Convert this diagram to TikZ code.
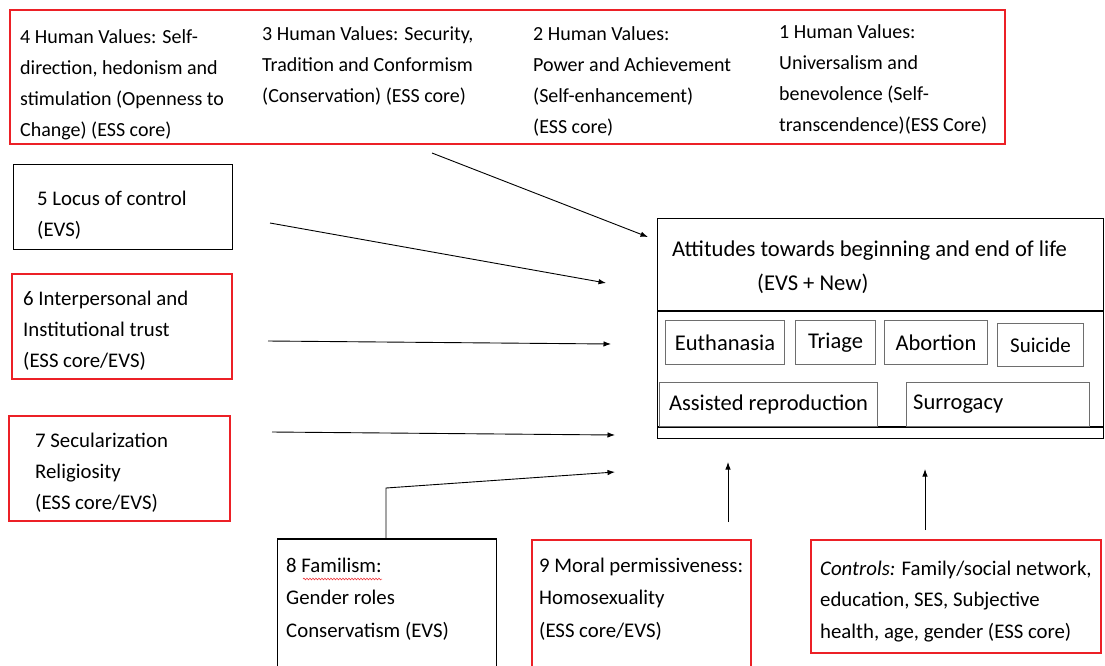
\documentclass[tikz,border=0pt]{standalone}
\usepackage{fontspec}
\setmainfont{Carlito}
\usetikzlibrary{arrows.meta,decorations.pathmorphing}
\definecolor{boxred}{RGB}{236,32,38}
\definecolor{innergray}{RGB}{110,110,110}
\tikzset{
  redbox/.style={draw=boxred,line width=1.8pt,inner sep=0pt,anchor=north west},
  blackbox/.style={draw=black,line width=1.3pt,inner sep=0pt,anchor=north west},
  itembox/.style={draw=innergray,line width=1pt,inner sep=0pt,anchor=north west},
  % base anchor of a multi-line label sits on its last line
  lbl/.style={inner sep=0pt,anchor=base west,align=left,font=\fontsize{20.8}{31}\selectfont},
  toplbl/.style={lbl,font=\fontsize{20}{31}\selectfont},
  itemlbl/.style={inner sep=0pt,font=\fontsize{22.5}{26}\selectfont},
  arr/.style={draw=black,line width=0.9pt,-{Latex[length=7.5pt,width=5.5pt]}}
}
\begin{document}
\begin{tikzpicture}[x=1pt,y=-1pt]
\useasboundingbox (0,0) rectangle (1105,665);
\clip (0,0) rectangle (1105,665);

% Human values (top row)
\node[redbox,minimum width=995,minimum height=134] (values) at (9,9) {};
\node[toplbl] (v4) at (20,136) {4 Human Values: Self-\\direction, hedonism and\\stimulation (Openness to\\Change) (ESS core)};
\node[toplbl] (v3) at (262,102) {3 Human Values: Security,\\Tradition and Conformism\\(Conservation) (ESS core)};
\node[toplbl] (v2) at (533,133) {2 Human Values:\\Power and Achievement\\(Self-enhancement)\\(ESS core)};
\node[toplbl] (v1) at (779,131) {1 Human Values:\\Universalism and\\benevolence (Self-\\transcendence)(ESS Core)};

% Left column
\node[blackbox,minimum width=219,minimum height=85] (locus) at (13,164) {};
\node[lbl] (locust) at (37,236) {5 Locus of control\\(EVS)};
\node[redbox,minimum width=220,minimum height=105] (trust) at (11,273) {};
\node[lbl] (trustt) at (23,367) {6 Interpersonal and\\Institutional trust\\(ESS core/EVS)};
\node[redbox,minimum width=221,minimum height=105] (secul) at (8,415) {};
\node[lbl] (secult) at (35,509) {7 Secularization\\Religiosity\\(ESS core/EVS)};

% Outcome block
\node[blackbox,minimum width=446,minimum height=220] (att) at (657,218) {};
\draw[line width=1.1pt] (att.west |- 0,311) -- (att.east |- 0,311);
\draw[line width=1.1pt] (att.west |- 0,427) -- (att.east |- 0,427);
\node[lbl,font=\fontsize{22.6}{34}\selectfont] (attt) at (672,256) {Attitudes towards beginning and end of life};
\node[lbl,font=\fontsize{22.6}{34}\selectfont] (attn) at (757,290) {(EVS + New)};

\node[itembox,minimum width=119,minimum height=44] (euth) at (665,320) {};
\node[itemlbl] at (euth.center) {Euthanasia};
\node[itembox,minimum width=80,minimum height=44] (triage) at (795,320) {};
\node[itemlbl] at (triage.center) {Triage};
\node[itembox,minimum width=103,minimum height=44] (abort) at (884,320) {};
\node[itemlbl] at (abort.center) {Abortion};
\node[itembox,minimum width=86,minimum height=43] (suic) at (997,323) {};
\node[itemlbl,font=\fontsize{21}{26}\selectfont] at (suic.center) {Suicide};
\node[itembox,fill=white,minimum width=218,minimum height=44] (assist) at (659,382) {};
\node[itemlbl] at (assist.center) {Assisted reproduction};
\node[itembox,fill=white,minimum width=183,minimum height=44] (surr) at (906,382) {};
\node[itemlbl,anchor=west] at ([xshift=7pt]surr.west) {Surrogacy};

% Bottom row
\node[blackbox,minimum width=219,minimum height=140] (fam) at (277,539) {};
\draw[line width=2.2pt] (fam.north west) -- (fam.north east);
\node[lbl,font=\fontsize{20.8}{32.5}\selectfont] (famt) at (286,637) {8 Familism:\\Gender roles\\Conservatism (EVS)};
\draw[boxred,line width=0.5pt,decorate,decoration={snake,amplitude=0.9pt,segment length=3pt}] (303,579) -- (382,579);
\node[redbox,minimum width=219,minimum height=140] (moral) at (531,539) {};
\node[lbl,font=\fontsize{20.8}{32.5}\selectfont] (moralt) at (539,637) {9 Moral permissiveness:\\Homosexuality\\(ESS core/EVS)};
\node[redbox,minimum width=290,minimum height=113] (ctrl) at (810,539) {};
\node[lbl,font=\fontsize{20.8}{31.5}\selectfont] (ctrlt) at (820,638) {\textit{Controls:} Family/social network,\\education, SES, Subjective\\health, age, gender (ESS core)};

% Connector ends
\coordinate (aV0) at (432,153);  \coordinate (aV1) at (648,237);
\coordinate (aL0) at (270,223);  \coordinate (aL1) at (606,283);
\coordinate (aT0) at (268,341);  \coordinate (aT1) at (611,344);
\coordinate (aS0) at (272,432);  \coordinate (aS1) at (615,435);
\coordinate (aF1) at (386,488);  \coordinate (aF2) at (615,472);
\coordinate (aM0) at (728,522);  \coordinate (aM1) at (728,462);
\coordinate (aC0) at (925,530);  \coordinate (aC1) at (925,469);

% Connectors
\draw[arr] (aV0) -- (aV1);
\draw[arr] (aL0) -- (aL1);
\draw[arr] (aT0) -- (aT1);
\draw[arr] (aS0) -- (aS1);
\draw[arr] (fam.north -| aF1) -- (aF1) -- (aF2);
\draw[arr] (aM0) -- (aM1);
\draw[arr] (aC0) -- (aC1);
\end{tikzpicture}
\end{document}
